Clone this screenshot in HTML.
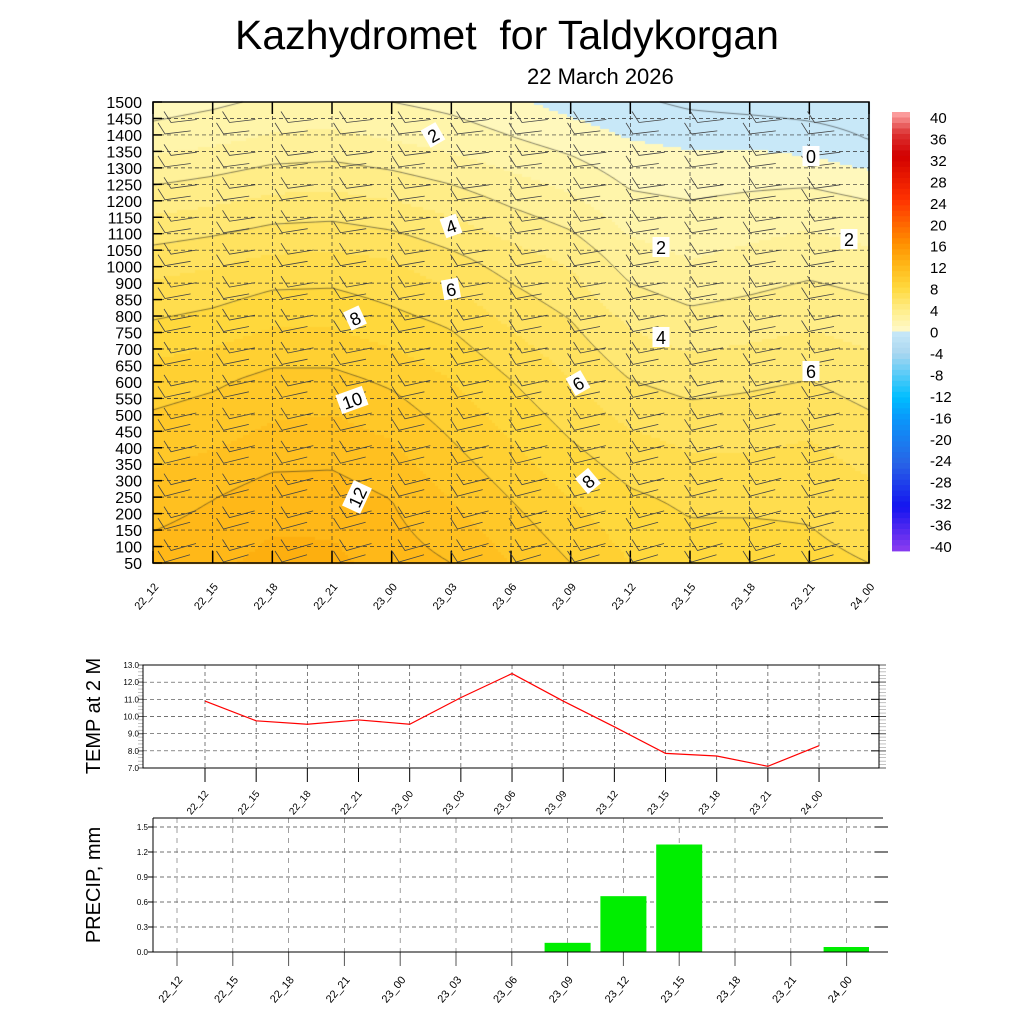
<!DOCTYPE html>
<html><head><meta charset="utf-8">
<style>
body{margin:0;background:#fff;width:1024px;height:1024px;overflow:hidden;position:relative;font-family:"Liberation Sans",sans-serif}
.t{position:absolute;white-space:nowrap}
</style></head>
<body>
<div class="t" style="left:0;width:1014px;text-align:center;top:12px;font-size:41px">Kazhydromet&nbsp; for Taldykorgan</div>
<div class="t" style="left:527px;top:64px;font-size:22px">22 March 2026</div>
<canvas id="cv" width="1024" height="1024" style="position:absolute;left:0;top:0"></canvas>
<svg id="sv" width="1024" height="1024" style="position:absolute;left:0;top:0"></svg>
<script>
// ---- Cross-section data ----
const times=["22_12","22_15","22_18","22_21","23_00","23_03","23_06","23_09","23_12","23_15","23_18","23_21","24_00"];
const heightLabels=["1500","1450","1400","1350","1300","1250","1200","1150","1100","1050","1000","900","850","800","750","700","650","600","550","500","450","400","350","300","250","200","150","100","50"];
const rowFrac=[0,0.137,0.267,0.397,0.527,0.657,0.787,0.917,1];
const tempGrid=[
[12.5,11.5,10.5,9.5,8,6.5,4.5,2.5,1.5],
[12.8,12,10.8,9.8,8.3,6.8,4.8,2.8,1.8],
[13.3,12.6,11.3,10.3,8.8,7.2,5.2,3.2,2.2],
[13.3,12.5,11.5,10.3,8.8,7.3,5.3,3.3,2.3],
[12.5,12,11,9.8,8.3,7,5,3,2],
[12,11,10,9,7.8,6.3,4.5,2.6,1.7],
[11,10,9,8,6.8,5.5,3.8,2.1,1.2],
[10,9,8,7,6,4.8,3.2,1.6,0.6],
[9,8.2,7.2,6,4.8,3.5,2.2,1,0.2],
[8.5,7.8,6.8,5.6,4.3,3,2,0.8,-0.2],
[8.5,7.8,6.8,5.8,4.5,3.3,2.2,0.8,-0.4],
[8.3,7.8,7,6,4.8,3.6,2.4,0.5,-0.5],
[8,7.3,6.5,5.5,4.5,3.3,2,0,-0.6]];
const contourLevels=[0,2,4,6,8,10,12];
const cbLabels=["40","36","32","28","24","20","16","12","8","4","0","-4","-8","-12","-16","-20","-24","-28","-32","-36","-40"];
// ---- Temperature 2m ----
const t2Labels=["22_12","22_15","22_18","22_21","23_00","23_03","23_06","23_09","23_12","23_15","23_18","23_21","24_00"];
const t2Values=[10.9,9.75,9.55,9.8,9.55,11.1,12.5,10.9,9.4,7.85,7.7,7.1,8.3];
const t2Ticks=["13.0","12.0","11.0","10.0","9.0","8.0","7.0"];
// ---- Precip ----
const prLabels=["22_12","22_15","22_18","22_21","23_00","23_03","23_06","23_09","23_12","23_15","23_18","23_21","24_00"];
const prValues=[0,0,0,0,0,0,0,0.11,0.67,1.29,0,0,0.06];
const prTicks=["1.5","1.2","0.9","0.6","0.3","0.0"];

const NS="http://www.w3.org/2000/svg";
const sv=document.getElementById('sv');
function el(tag,attrs,parent){const e=document.createElementNS(NS,tag);for(const k in attrs)e.setAttribute(k,attrs[k]);(parent||sv).appendChild(e);return e;}
function txt(x,y,s,size,anchor,rot){const e=el('text',{x:x,y:y,'font-size':size,'text-anchor':anchor||'start','font-family':'Liberation Sans, sans-serif'});if(rot)e.setAttribute('transform',`rotate(${rot} ${x} ${y})`);e.textContent=s;return e;}

const L=153,R=869,T=102,B=563;
const xS=i=>L+(R-L)*i/(times.length-1);
function tempAt(fx,fy){
  let c=Math.min(Math.max(fx,0),times.length-1.0001);let c0=Math.floor(c),tc=c-c0;
  let r=0;while(r<rowFrac.length-2&&fy>rowFrac[r+1])r++;
  let tr=(fy-rowFrac[r])/(rowFrac[r+1]-rowFrac[r]);tr=Math.min(Math.max(tr,0),1);
  const g=(ci,ri)=>tempGrid[ci][ri];
  const a=g(c0,r)*(1-tr)+g(c0,r+1)*tr, b=g(c0+1,r)*(1-tr)+g(c0+1,r+1)*tr;
  return a*(1-tc)+b*tc;
}
const stops=[[-4,[170,215,240]],[0,[200,232,248]],[0.001,[255,250,205]],[2,[255,245,170]],[4,[255,237,135]],[6,[255,226,95]],[8,[255,216,60]],[10,[255,200,40]],[12,[255,184,24]],[14,[250,166,5]],[16,[255,144,0]]];
function col(t){
  if(t<0){return 'rgb(200,232,248)';}
  t=Math.floor(t);
  for(let i=0;i<stops.length-1;i++){if(t<=stops[i+1][0]){const a=stops[i],b=stops[i+1];const f=(t-a[0])/(b[0]-a[0]);return `rgb(${a[1].map((v,k)=>Math.round(v+(b[1][k]-v)*f)).join(',')})`;}}
  return 'rgb(255,144,0)';
}
const cv=document.getElementById('cv').getContext('2d');
const step=3;
for(let x=L;x<R;x+=step)for(let y=T;y<B;y+=step){
  const fx=(x+step/2-L)/(R-L)*(times.length-1),fy=(B-(y+step/2))/(B-T);
  cv.fillStyle=col(tempAt(fx,fy));cv.fillRect(x,y,step,step);
}
cv.strokeStyle='rgba(30,30,30,0.9)';cv.lineWidth=0.6;
const gs=6,nx=Math.ceil((R-L)/gs),ny=Math.ceil((B-T)/gs);
const V=[];for(let i=0;i<=nx;i++){V[i]=[];for(let j=0;j<=ny;j++){const x=Math.min(L+i*gs,R),y=Math.min(T+j*gs,B);V[i][j]=tempAt((x-L)/(R-L)*(times.length-1),(B-y)/(B-T));}}
contourLevels.forEach(lv=>{
  cv.beginPath();
  for(let i=0;i<nx;i++)for(let j=0;j<ny;j++){
    const x0=L+i*gs,y0=T+j*gs,x1=Math.min(x0+gs,R),y1=Math.min(y0+gs,B);
    const c=[[x0,y0,V[i][j]],[x1,y0,V[i+1][j]],[x1,y1,V[i+1][j+1]],[x0,y1,V[i][j+1]]];
    const pts=[];
    for(let k=0;k<4;k++){const a=c[k],b=c[(k+1)%4];if((a[2]-lv)*(b[2]-lv)<0){const f=(lv-a[2])/(b[2]-a[2]);pts.push([a[0]+(b[0]-a[0])*f,a[1]+(b[1]-a[1])*f]);}}
    if(pts.length>=2){cv.moveTo(pts[0][0],pts[0][1]);cv.lineTo(pts[1][0],pts[1][1]);}
    if(pts.length==4){cv.moveTo(pts[2][0],pts[2][1]);cv.lineTo(pts[3][0],pts[3][1]);}
  }
  cv.stroke();
});
const g=el('g',{});
heightLabels.forEach((h,i)=>{const y=T+(B-T)*i/(heightLabels.length-1);
  el('line',{x1:L,x2:R,y1:y,y2:y,stroke:'#333','stroke-width':0.7,'stroke-dasharray':'4,3'},g);
  el('line',{x1:L,x2:L+9,y1:y,y2:y,stroke:'#000','stroke-width':1.5},g);
  const t=txt(L-11,y+6,h,16,'end');});
times.forEach((s,i)=>{const x=xS(i);
  el('line',{x1:x,x2:x,y1:T,y2:B,stroke:'#333','stroke-width':0.7,'stroke-dasharray':'4,3'},g);
  el('line',{x1:x,x2:x,y1:T,y2:T+12,stroke:'#000','stroke-width':1.5},g);
  el('line',{x1:x,x2:x,y1:B-12,y2:B,stroke:'#000','stroke-width':1.5},g);
  const t=txt(x+6,B+24,s,11,'end',-50);});
// wind barbs
const bg=el('g',{stroke:'#444','stroke-width':0.8,fill:'none'});
for(let i=0;i<13;i++){for(let j=0;j<heightLabels.length;j++){
  const x=L+12+i*58.5+((j%2)?6:0),y=T+(B-T)*j/(heightLabels.length-1)+((j%2)?4:-1);
  if(x>R-26||y<T+4)continue;
  const fy=(B-y)/(B-T);const ang=-(6+10*(1-fy));
  const a=ang*Math.PI/180,len=26;
  const x2=x+len*Math.cos(a),y2=y+len*Math.sin(a);
  el('path',{d:`M${x2.toFixed(1)},${y2.toFixed(1)}L${x},${y}L${(x-7).toFixed(1)},${(y-11).toFixed(1)}`},bg);
}}
el('rect',{x:L,y:T,width:R-L,height:B-T,fill:'none',stroke:'#000','stroke-width':1.5});
const labs=[["2",433,135,-30],["4",451,226,-20],["6",451,289,-10],["8",355,318,-25],["10",352,400,-20],["12",357,497,-65],["6",578,383,-30],["8",588,481,-40],["2",661,247,0],["4",661,337,0],["0",811,156,0],["2",849,239,0],["6",811,371,0]];
labs.forEach(l=>{const gg=el('g',{transform:`rotate(${l[3]} ${l[1]} ${l[2]})`});
  const w=l[0].length*11+6;el('rect',{x:l[1]-w/2,y:l[2]-10,width:w,height:20,fill:'#fff'},gg);
  const t=txt(l[1],l[2]+7,l[0],18,'middle');gg.appendChild(t);});
const cb=el('g',{});
const cbT=112,cbB=551,n=80;
const cbCols=(v)=>{
  const st=[[-40,[140,60,240]],[-32,[20,20,240]],[-24,[40,100,230]],[-16,[10,150,250]],[-12,[0,190,255]],[-4,[170,215,240]],[0,[200,232,248]],[0.01,[255,250,205]],[4,[255,237,135]],[8,[255,216,60]],[12,[255,184,24]],[16,[255,144,0]],[24,[255,50,0]],[32,[210,0,0]],[36,[220,50,50]],[40,[255,170,170]]];
  for(let i=0;i<st.length-1;i++)if(v<=st[i+1][0]){const a=st[i],b=st[i+1],f=(v-a[0])/(b[0]-a[0]);return `rgb(${a[1].map((c,k)=>Math.round(c+(b[1][k]-c)*f)).join(',')})`;}
  return 'rgb(255,170,170)';};
for(let k=0;k<n;k++){const v=40-(k+0.5);const y=cbT+(cbB-cbT)*k/n;el('rect',{x:892,y:y,width:18,height:(cbB-cbT)/n+0.4,fill:cbCols(v)},cb);}
cbLabels.forEach((s,i)=>{const y=cbT+5+(cbB-cbT-10)*i/(cbLabels.length-1);txt(930,y+6,s,15,'start');});

const tL=143,tR=879,tT=665,tB=768,tx=i=>205+51.17*i,ty=v=>tB-(v-7)*(tB-tT)/6;
const tg=el('g',{});
t2Ticks.forEach(s=>{const y=ty(parseFloat(s));el('line',{x1:tL,x2:tR,y1:y,y2:y,stroke:'#444','stroke-width':0.7,'stroke-dasharray':'4,3'},tg);el('line',{x1:tL,x2:tL-5,y1:y,y2:y,stroke:'#000'},tg);el('line',{x1:tR-8,x2:tR+7,y1:y,y2:y,stroke:'#000'},tg);txt(tL-4,y+3,s,8,'end');});
for(let v=7;v<=13;v+=0.2){const y=ty(v);el('line',{x1:tR,x2:tR+7,y1:y,y2:y,stroke:'#999','stroke-width':0.6},tg);el('line',{x1:tL,x2:tL-5,y1:y,y2:y,stroke:'#999','stroke-width':0.6},tg);}
t2Labels.forEach((s,i)=>{const x=tx(i);el('line',{x1:x,x2:x,y1:tT,y2:tB,stroke:'#444','stroke-width':0.7,'stroke-dasharray':'4,3'},tg);el('line',{x1:x,x2:x,y1:tB,y2:tB+14,stroke:'#000'},tg);txt(x+4,tB+26,s,10,'end',-50);});
el('rect',{x:tL,y:tT,width:tR-tL,height:tB-tT,fill:'none',stroke:'#000','stroke-width':1},tg);
const tl=el('polyline',{points:t2Values.map((v,i)=>tx(i)+','+ty(v)).join(' '),fill:'none',stroke:'#f00','stroke-width':1.2},tg);
txt(100,716,'TEMP at 2 M',20,'middle',-90);

const pL=153,pR=883,pT=818,pB=952,px=i=>177+55.8*i,py=v=>pB-v*(pB-827)/1.5;
const pg=el('g',{});
prTicks.forEach(s=>{const y=py(parseFloat(s));el('line',{x1:pL,x2:pR,y1:y,y2:y,stroke:'#444','stroke-width':0.7,'stroke-dasharray':'4,3'},pg);el('line',{x1:pL,x2:pL-5,y1:y,y2:y,stroke:'#000'},pg);el('line',{x1:pR-8,x2:pR+5,y1:y,y2:y,stroke:'#000'},pg);txt(pL-5,y+3,s,8,'end');});
prLabels.forEach((s,i)=>{const x=px(i);el('line',{x1:x,x2:x,y1:pT,y2:pB,stroke:'#777','stroke-width':0.7,'stroke-dasharray':'5,5'},pg);el('line',{x1:x,x2:x,y1:pB,y2:pB+14,stroke:'#555'},pg);txt(x+6,pB+28,s,11,'end',-50);});
prValues.forEach((v,i)=>{const x=Math.max(px(i)-23,pL),w=Math.min(px(i)+23,869)-x;const r=el('rect',{x:x,y:py(v),width:w,height:pB-py(v),fill:'#00ee00'},pg);});
el('line',{x1:pL,x2:pR,y1:pT,y2:pT,stroke:'#000'},pg);el('line',{x1:pL,x2:pR,y1:pB,y2:pB,stroke:'#000'},pg);el('line',{x1:pL,x2:pL,y1:pT,y2:pB,stroke:'#000'},pg);
txt(100,885,'PRECIP, mm',20,'middle',-90);
</script>
</body></html>
